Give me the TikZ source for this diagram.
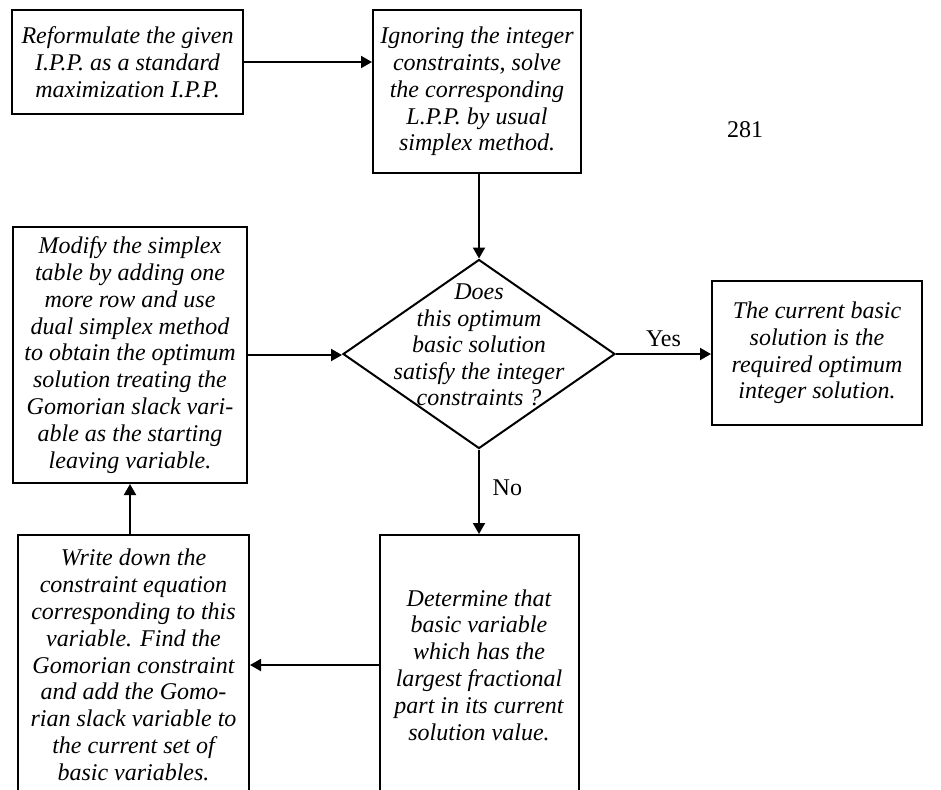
\documentclass[tikz,border=0pt]{standalone}
\usepackage{fontspec}
\setmainfont{Liberation Serif}
\usetikzlibrary{arrows.meta, shapes.geometric}

\begin{document}
\begin{tikzpicture}[x=0.5pt, y=-0.5pt, line width=1pt,
    font=\fontsize{12}{13.4}\selectfont,
    stepbox/.style={draw, rectangle, align=center, inner sep=0pt, font=\fontsize{12}{13.4}\selectfont\itshape},
    txt/.style={align=center, inner sep=0pt, font=\fontsize{12}{13.3}\selectfont\itshape},
    decision/.style={draw, diamond, inner sep=0pt, minimum width=136pt, minimum height=94.5pt},
    flow/.style={-{Triangle[length=5.5pt, width=6pt]}}]
    \useasboundingbox (0,0) rectangle (941,789);

    % steps
    \node[stepbox, minimum width=115.5pt, minimum height=52pt] (reform) at (127.5,62)
        {Reformulate the given\\ I.P.P. as a standard\\ maximization I.P.P.};
    \node[stepbox, minimum width=104pt, minimum height=81.5pt] (relax) at (477,91.5)
        {Ignoring the integer\\ constraints, solve\\ the corresponding\\ L.P.P. by usual\\ simplex method.};
    \node[decision] (check) at (479,354) {};
    \node[txt] (checktxt) at (479,345) {Does\\ this optimum\\ basic solution\\ satisfy the integer\\ constraints ?};
    \node[stepbox, minimum width=105pt, minimum height=72pt] (done) at (817,353)
        {The current basic\\ solution is the\\ required optimum\\ integer solution.};
    \node[stepbox, minimum width=117pt, minimum height=128pt] (modify) at (130,355)
        {Modify the simplex\\ table by adding one\\ more row and use\\ dual simplex method\\ to obtain the optimum\\ solution treating the\\ Gomorian slack vari-\\ able as the starting\\ leaving variable.};
    \node[stepbox, minimum width=99.5pt, minimum height=130pt] (pick) at (479,665)
        {Determine that\\ basic variable\\ which has the\\ largest fractional\\ part in its current\\ solution value.};
    \node[stepbox, minimum width=115.5pt, minimum height=130pt] (cut) at (133.5,665)
        {Write down the\\ constraint equation\\ corresponding to this\\ variable. Find the\\ Gomorian constraint\\ and add the Gomo-\\ rian slack variable to\\ the current set of\\ basic variables.};

    \node (page) at (745,130) {281};

    % connectors
    \draw[flow] (reform.east) -- (reform.east -| relax.west);
    \draw[flow] (relax.south -| check.north) -- (check.north);
    \draw[flow] (check.east) -- node[above] {Yes} (check.east -| done.west);
    \draw[flow] (check.south) -- node[right=3pt, pos=0.45] {No} (check.south |- pick.north);
    \draw[flow] (pick.west) -- (cut.east);
    \draw[flow] (cut.north -| modify.south) -- (modify.south);
    \draw[flow] (modify.east) -- (modify.east -| check.west);
\end{tikzpicture}
\end{document}
